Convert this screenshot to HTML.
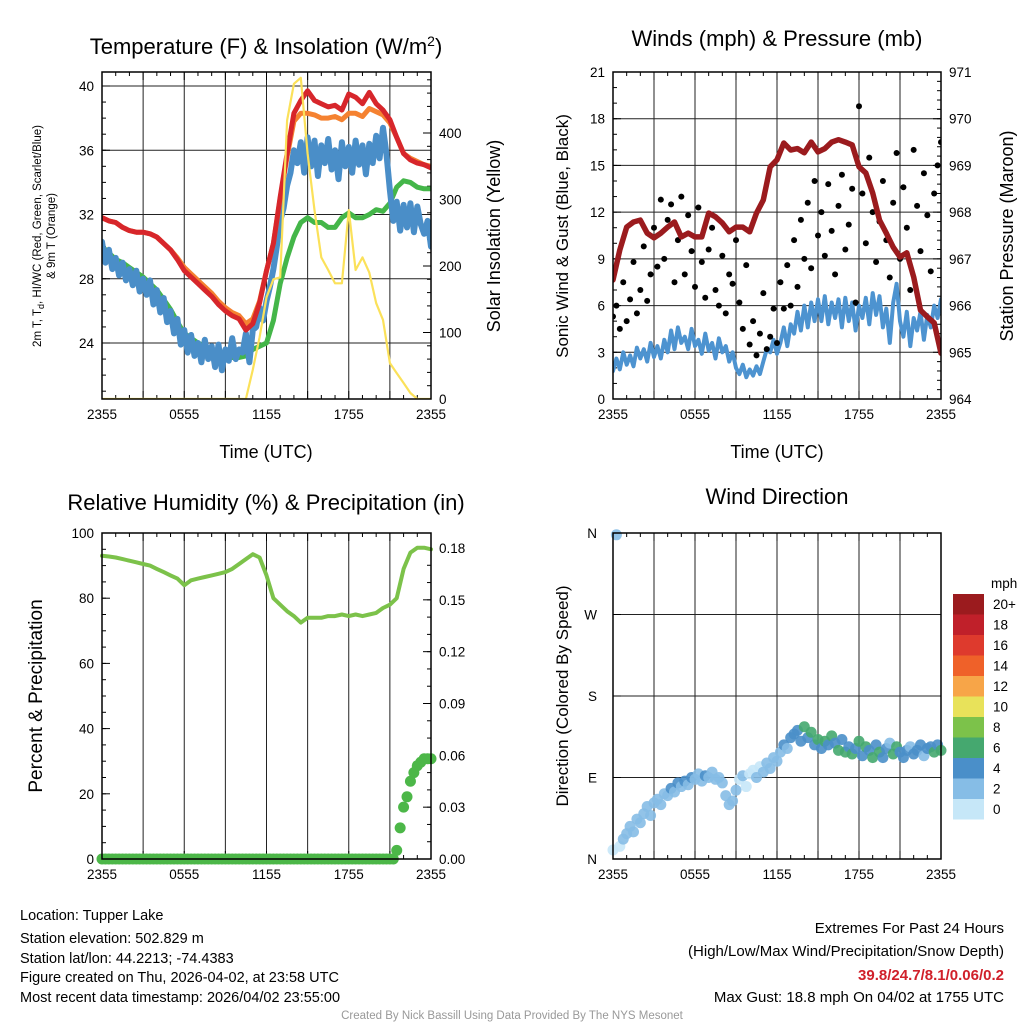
<!DOCTYPE html>
<html><head><meta charset="utf-8"><style>
html,body{margin:0;padding:0;background:#fff}
svg{display:block}
text{font-family:"Liberation Sans",sans-serif;fill:#000}
</style></head><body>
<svg id="chart" width="1024" height="1024" viewBox="0 0 1024 1024">
<g id="g1"></g>
<g id="g2"></g>
<g id="g3"></g>
<g id="g4"></g>
<text x="266" y="54" font-size="22" text-anchor="middle">Temperature (F) &amp; Insolation (W/m<tspan dy="-8" font-size="14">2</tspan><tspan dy="8">)</tspan></text>
<text x="777" y="46" font-size="22" text-anchor="middle">Winds (mph) &amp; Pressure (mb)</text>
<text x="266" y="510" font-size="22" text-anchor="middle">Relative Humidity (%) &amp; Precipitation (in)</text>
<text x="777" y="504" font-size="22" text-anchor="middle">Wind Direction</text>
<text transform="translate(41,236) rotate(-90)" font-size="11.5" text-anchor="middle">2m T, T<tspan dy="3" font-size="9">d</tspan><tspan dy="-3">, HI/WC (Red, Green, Scarlet/Blue)</tspan></text>
<text transform="translate(55,236) rotate(-90)" font-size="11.5" text-anchor="middle">&amp; 9m T (Orange)</text>
<text transform="translate(500,236) rotate(-90)" font-size="18" text-anchor="middle">Solar Insolation (Yellow)</text>
<text x="266" y="458" font-size="18" text-anchor="middle">Time (UTC)</text>
<text transform="translate(568,236) rotate(-90)" font-size="17" text-anchor="middle">Sonic Wind &amp; Gust (Blue, Black)</text>
<text transform="translate(1013,236) rotate(-90)" font-size="18" text-anchor="middle">Station Pressure (Maroon)</text>
<text x="777" y="458" font-size="18" text-anchor="middle">Time (UTC)</text>
<text transform="translate(42,696) rotate(-90)" font-size="19" text-anchor="middle">Percent &amp; Precipitation</text>
<text transform="translate(568,696) rotate(-90)" font-size="17" text-anchor="middle">Direction (Colored By Speed)</text>
<g font-size="14.5">
<text x="20" y="920">Location: Tupper Lake</text>
<text x="20" y="943">Station elevation: 502.829 m</text>
<text x="20" y="963">Station lat/lon: 44.2213; -74.4383</text>
<text x="20" y="982">Figure created on Thu, 2026-04-02, at 23:58 UTC</text>
<text x="20" y="1002">Most recent data timestamp: 2026/04/02 23:55:00</text>
</g>
<g font-size="15" text-anchor="end">
<text x="1004" y="933">Extremes For Past 24 Hours</text>
<text x="1004" y="956">(High/Low/Max Wind/Precipitation/Snow Depth)</text>
<text x="1004" y="980" font-weight="bold" style="fill:#d0202a">39.8/24.7/8.1/0.06/0.2</text>
<text x="1004" y="1002">Max Gust: 18.8 mph On 04/02 at 1755 UTC</text>
</g>
<text x="512" y="1019" font-size="11.5" text-anchor="middle" style="fill:#999">Created By Nick Bassill Using Data Provided By The NYS Mesonet</text>
</svg>
<script>
const xTickLabels=["2355","0555","1155","1755","2355"];
const tempRed=[31.8,31.6,31.5,31.2,31.0,30.9,30.9,30.8,30.6,30.2,29.8,29.2,28.5,28.1,27.7,27.3,26.9,26.4,26.0,25.7,25.5,24.8,25.2,26.5,28.5,30.2,33.1,35.8,38.3,39.1,39.7,39.1,38.9,38.7,38.8,38.5,39.5,39.3,38.9,39.6,38.9,38.5,37.9,36.8,35.8,35.4,35.2,35.1,34.9];
const tempOrange=[31.8,31.6,31.5,31.2,31.0,30.9,30.9,30.8,30.6,30.2,29.8,29.3,28.7,28.3,27.9,27.5,27.1,26.6,26.2,25.9,25.7,25.2,25.5,26.6,28.5,30.2,33.0,35.6,37.8,38.3,38.3,38.2,38.0,38.0,38.1,37.9,38.3,38.3,38.1,38.6,38.4,38.2,37.7,36.8,35.8,35.5,35.3,35.1,35.0];
const dewGreen=[30.0,29.6,29.2,29.0,28.7,28.4,28.1,27.7,27.3,26.7,26.1,25.3,24.6,24.3,24.0,23.8,23.6,23.4,23.1,23.1,23.1,23.2,23.6,23.8,24.0,25.4,27.7,29.3,30.6,31.5,31.8,31.5,31.5,31.2,31.2,31.8,32.1,31.8,31.8,32.0,32.3,32.2,32.7,33.7,34.1,34.0,33.7,33.6,33.6];
const wcBlue=[30.3,29.0,29.8,28.6,29.3,28.2,29.0,27.9,28.6,27.6,28.5,27.2,28.0,27.0,27.9,26.4,27.3,25.9,26.8,25.3,26.0,24.6,25.5,23.9,24.8,23.4,24.5,23.2,24.0,22.8,24.2,23.0,23.8,22.5,23.9,22.3,23.6,22.9,24.3,23.0,23.6,23.4,24.6,22.8,24.8,25.0,26.2,25.4,26.6,27.5,28.6,30.0,31.6,32.4,33.8,34.6,36.0,35.2,36.5,34.6,36.8,35.0,36.6,34.4,36.3,35.2,36.7,34.8,36.0,34.2,36.5,35.0,36.2,34.6,36.6,35.1,36.3,34.5,36.4,35.2,36.9,35.5,37.4,35.8,33.5,31.6,32.8,31.0,32.6,31.2,32.7,30.9,32.5,31.4,30.8,31.6,30.0];
const solar=[0,0,0,0,0,0,0,0,0,0,0,0,0,0,0,0,0,0,0,0,0,0,44,93,153,180,183,419,474,483,369,284,213,194,174,174,284,194,213,190,144,119,54,39,24,9,0,0,0];
const pressure=[966.55,967.19,967.68,967.79,967.83,967.55,967.45,967.55,967.68,967.79,967.47,967.55,967.47,967.47,967.98,967.9,967.77,967.58,967.68,967.68,967.58,967.98,968.26,968.97,969.12,969.48,969.33,969.36,969.27,969.5,969.29,969.36,969.5,969.55,969.5,969.44,968.97,968.84,968.41,967.83,967.55,967.25,967.04,967.13,966.61,965.9,965.76,965.63,964.98];
const sonicWind=[1.8,2.6,1.9,3.0,2.2,2.8,2.1,3.3,2.6,3.2,2.4,3.6,2.7,3.4,2.6,3.8,3.0,4.4,3.2,4.6,3.6,4.0,3.2,4.5,3.4,3.8,2.9,4.2,3.1,3.6,2.6,3.9,3.0,3.4,2.4,3.0,2.0,1.6,2.2,1.4,1.9,1.5,2.1,1.6,2.4,3.2,3.0,3.8,2.9,3.6,4.6,3.4,4.8,4.2,5.6,4.4,6.0,4.6,6.2,5.0,6.4,5.0,6.6,4.8,6.2,5.2,6.4,4.6,6.5,5.0,6.2,4.4,6.0,5.2,6.5,4.8,6.8,5.4,6.6,4.6,5.8,3.6,6.2,7.4,5.0,4.0,5.6,3.4,5.2,4.4,5.6,3.8,5.4,4.6,6.0,5.2,6.4];
const gust=[5.3,6.0,4.5,7.5,5.0,6.4,8.8,5.5,7.0,9.8,6.3,8.0,11.0,8.5,12.8,9.0,11.5,12.5,7.5,10.2,13.0,8.0,11.8,9.5,7.2,12.3,8.8,6.5,9.6,11.0,7.0,6.0,9.2,5.5,8.0,7.4,10.2,6.2,4.5,8.6,3.5,5.0,2.8,4.2,6.8,3.2,4.0,5.8,3.6,7.5,5.8,8.6,6.0,10.2,7.2,11.5,9.0,12.6,8.4,14.0,10.5,12.0,9.2,13.8,10.8,8.0,12.4,14.4,9.6,11.2,13.5,6.2,18.8,13.2,10.0,15.5,12.0,8.8,11.4,14.0,10.2,7.8,12.6,15.8,9.0,13.6,11.0,7.0,16.0,12.4,9.5,14.5,11.8,8.2,13.2,15.0,16.5];
const relHum=[93,92.8,92.5,92,91.5,91,90.5,90,89,88,87,86,84,85.5,86,86.5,87,87.5,88,89,90.5,92,93.5,92.5,87,80,78,76,74.5,72.5,74,74,74,74.5,74.5,75,74.5,75,74.5,75,75.5,77,78,80,89,94,95.5,95.5,95];
const precip=[0,0,0,0,0,0,0,0,0,0,0,0,0,0,0,0,0,0,0,0,0,0,0,0,0,0,0,0,0,0,0,0,0,0,0,0,0,0,0,0,0,0,0,0,0,0,0,0,0,0,0,0,0,0,0,0,0,0,0,0,0,0,0,0,0,0,0,0,0,0,0,0,0,0,0,0,0,0,0,0,0,0,0,0,0,0,0.005,0.018,0.030,0.036,0.045,0.050,0.054,0.056,0.058,0.058,0.058];
const windDir=[10,358,14,22,28,36,30,44,40,50,58,48,62,66,60,72,70,78,74,84,80,86,82,90,88,94,86,92,90,96,88,90,84,70,60,64,76,88,92,80,94,98,90,102,96,106,100,112,108,118,126,122,134,138,142,130,146,134,140,126,132,122,130,126,136,128,120,132,118,124,116,122,130,114,124,120,112,126,118,112,122,128,116,124,118,112,120,124,116,120,126,114,122,124,118,126,120];
const dirSpeed=sonicWind;
const speedColors=["#c6e7f8","#86bde6","#4a8fc9","#45a86f","#7cc24a","#e8e25a","#f7a548","#ef6129","#de3a2d","#c0202a","#9b1b1e"];
const speedLabels=["0","2","4","6","8","10","12","14","16","18","20+"];

const NS="http://www.w3.org/2000/svg";
function mk(parent,tag,attrs){const e=document.createElementNS(NS,tag);for(const k in attrs)e.setAttribute(k,attrs[k]);parent.appendChild(e);return e;}
function xs(x0,x1){return h=>x0+(x1-x0)*h/24;}
function ys(y0,y1,v0,v1){return v=>y0+(y1-y0)*(v-v0)/(v1-v0);}
function frame(g,x0,y0,x1,y1){
  for(let i=0;i<=8;i++){const x=x0+(x1-x0)*i/8;const l=mk(g,'line',{x1:x,y1:y0,x2:x,y2:y1,stroke:'#222','stroke-width':1});
    }
  for(let i=0;i<5;i++){const x=x0+(x1-x0)*i/4;const t=mk(g,'text',{x:x,y:y1+20,'font-size':13.5,'text-anchor':'middle'});t.textContent=xTickLabels[i];
    }
  for(let i=0;i<=24;i++){const x=x0+(x1-x0)*i/24;const len=(i%3==0)?8:4;
    mk(g,'line',{x1:x,y1:y1,x2:x,y2:y1-len,stroke:'#000'});mk(g,'line',{x1:x,y1:y0,x2:x,y2:y0+len,stroke:'#000'});}
}
function border(g,x0,y0,x1,y1){const r=mk(g,'rect',{x:x0,y:y0,width:x1-x0,height:y1-y0,fill:'none',stroke:'#000','stroke-width':1.5});
  }
function yTicks(g,x,y,vals,fmt,side,x0,x1,grid,minor){
  vals.forEach(v=>{const yy=y(v);
    if(grid){const l=mk(g,'line',{x1:x0,y1:yy,x2:x1,y2:yy,stroke:'#222'});}
    const t=mk(g,'text',{x:side<0?x-8:x+8,y:yy+5,'font-size':13.5,'text-anchor':side<0?'end':'start'});t.textContent=fmt(v);
    
    mk(g,'line',{x1:x,y1:yy,x2:x-side*8,y2:yy,stroke:'#000'});});
  (minor||[]).forEach(v=>{const yy=y(v);mk(g,'line',{x1:x,y1:yy,x2:x-side*4,y2:yy,stroke:'#000'});});
}
function path(g,vals,x,y,color,w,name){
  const n=vals.length;const d=vals.map((v,i)=>(i?'L':'M')+x(i*24/(n-1)).toFixed(1)+' '+y(v).toFixed(1)).join(' ');
  const p=mk(g,'path',{d:d,fill:'none',stroke:color,'stroke-width':w,'stroke-linejoin':'round','stroke-linecap':'round'});
  return p;
}
function range(a,b,s){const r=[];for(let v=a;v<=b+1e-9;v+=s)r.push(+v.toFixed(4));return r;}

// Panel 1
(function(){const g=document.getElementById('g1');const X0=102,X1=431,Y0=72,Y1=399;
  const x=xs(X0,X1);const y=ys(343,86,24,40);const yr=ys(399,133,0,400);
  const clip=mk(g,'clipPath',{id:'c1'});mk(clip,'rect',{x:X0,y:Y0,width:X1-X0,height:Y1-Y0});
  frame(g,X0,Y0,X1,Y1);
  yTicks(g,X0,y,[24,28,32,36,40],v=>v,-1,X0,X1,true,range(21,40,1));
  yTicks(g,X1,yr,[0,100,200,300,400],v=>v,1,X0,X1,false,range(0,480,20));
  const pg=mk(g,'g',{'clip-path':'url(#c1)'});
  path(pg,dewGreen,x,y,'#44b649',5,'dewpoint-line');
  path(pg,wcBlue,x,y,'#4a8ec8',6,'windchill-line');
  path(pg,tempOrange,x,y,'#f58231',5,'temp-9m-line');
  path(pg,tempRed,x,y,'#d7262b',5,'temp-2m-line');
  path(pg,solar,x,yr,'#fbe15a',2.2,'solar-line');
  border(g,X0,Y0,X1,Y1);})();

// Panel 2
(function(){const g=document.getElementById('g2');const X0=613,X1=941,Y0=72,Y1=399;
  const x=xs(X0,X1);const y=ys(399,72,0,21);const yr=ys(399,72,964,971);
  const clip=mk(g,'clipPath',{id:'c2'});mk(clip,'rect',{x:X0,y:Y0,width:X1-X0,height:Y1-Y0});
  frame(g,X0,Y0,X1,Y1);
  yTicks(g,X0,y,[0,3,6,9,12,15,18,21],v=>v,-1,X0,X1,true,range(0,21,1));
  yTicks(g,X1,yr,[964,965,966,967,968,969,970,971],v=>v,1,X0,X1,false,range(964,971,0.2));
  const pg=mk(g,'g',{'clip-path':'url(#c2)'});
  path(pg,sonicWind,x,y,'#4d93d0',4,'sonic-wind-line');
  gust.forEach((v,i)=>{const c=mk(pg,'circle',{cx:x(i*24/(gust.length-1)),cy:y(v),r:3,fill:'#000'});
    });
  path(pg,pressure,x,yr,'#9b1b1e',5.5,'pressure-line');
  border(g,X0,Y0,X1,Y1);})();

// Panel 3
(function(){const g=document.getElementById('g3');const X0=102,X1=431,Y0=533,Y1=859;
  const x=xs(X0,X1);const y=ys(859,533,0,100);const yr=ys(859,548,0,0.18);
  frame(g,X0,Y0,X1,Y1);
  yTicks(g,X0,y,[0,20,40,60,80,100],v=>v,-1,X0,X1,false,range(0,100,5));
  yTicks(g,X1,yr,[0,0.03,0.06,0.09,0.12,0.15,0.18],v=>v.toFixed(2),1,X0,X1,false,range(0,0.18,0.01));
  path(g,relHum,x,y,'#7cc24a',4,'humidity-line');
  precip.forEach((v,i)=>{const c=mk(g,'circle',{cx:x(i*24/(precip.length-1)),cy:yr(v),r:5.5,fill:'#4cb748'});
    });
  border(g,X0,Y0,X1,Y1);})();

// Panel 4
(function(){const g=document.getElementById('g4');const X0=613,X1=941,Y0=533,Y1=859;
  const x=xs(X0,X1);const y=ys(859,533,0,360);
  frame(g,X0,Y0,X1,Y1);
  const dl=["N","E","S","W","N"];
  [0,90,180,270,360].forEach((v,i)=>{const yy=y(v);mk(g,'line',{x1:X0,y1:yy,x2:X1,y2:yy,stroke:'#222'});
    const t=mk(g,'text',{x:X0-16,y:yy+5,'font-size':13.5,'text-anchor':'end'});t.textContent=dl[i];
    
    mk(g,'line',{x1:X0,y1:yy,x2:X0+8,y2:yy,stroke:'#000'});});
  windDir.forEach((v,i)=>{const s=dirSpeed[i];const ci=Math.min(10,Math.floor(s/2));
    const c=mk(g,'circle',{cx:x(i*24/(windDir.length-1)),cy:y(v),r:5.5,fill:speedColors[ci],'fill-opacity':0.9});
    });
  border(g,X0,Y0,X1,Y1);
  const cb=mk(g,'g',{});
  const t0=mk(cb,'text',{x:991,y:588,'font-size':13.5});t0.textContent='mph';
  for(let k=0;k<11;k++){const idx=10-k;const yy=594+k*20.5;
    mk(cb,'rect',{x:953,y:yy,width:31,height:20.5,fill:speedColors[idx]});
    const t=mk(cb,'text',{x:993,y:yy+15,'font-size':13.5});t.textContent=speedLabels[idx];
    }
})();
</script>
</body></html>
